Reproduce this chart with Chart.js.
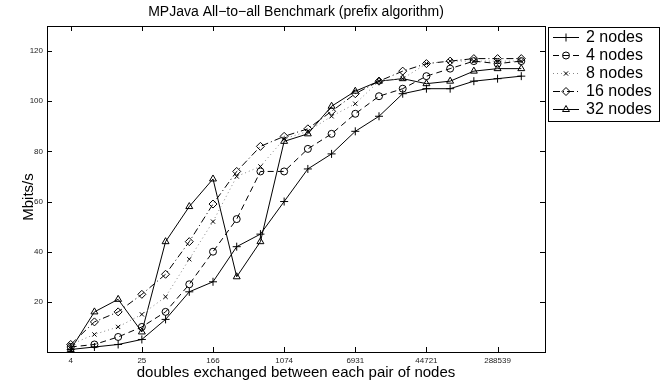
<!DOCTYPE html>
<html>
<head>
<meta charset="utf-8">
<script src="https://cdn.jsdelivr.net/npm/chart.js@4/dist/chart.umd.min.js"></script>
<style>
  html, body { margin: 0; padding: 0; background: #fff; }
  #wrap { width: 661px; height: 385px; }
</style>
</head>
<body>
<div id="wrap"><canvas id="bench" width="661" height="385"></canvas></div>
<script>
// message sizes are plotted by step index (log spaced), labelled every 3rd step
const steps = [0, 1, 2, 3, 4, 5, 6, 7, 8, 9, 10, 11, 12, 13, 14, 15, 16, 17, 18, 19];
const tickIdx = [0, 3, 6, 9, 12, 15, 18];
const tickLabels = ['4', '25', '166', '1074', '6931', '44721', '288539'];
const yTicks = [20, 40, 60, 80, 100, 120];

const nodes2  = [1, 2, 3, 5, 13, 24, 28, 42, 47, 60, 73, 79, 88, 94, 103, 105, 105, 108, 109, 110];
const nodes4  = [2, 3, 6, 10, 16, 27, 40, 53, 72, 72, 81, 87, 95, 102, 105, 110, 113, 116, 115, 116];
const nodes8  = [3, 7, 10, 15, 22, 37, 52, 70, 74, 85, 88, 94, 99, 108, 109, 115, 116, 116, 116, 116];
const nodes16 = [3, 12, 16, 23, 31, 44, 59, 72, 82, 86, 89, 96, 103, 108, 112, 115, 116, 117, 117, 117];
const nodes32 = [1, 16, 21, 8, 44, 58, 69, 30, 44, 84, 87, 98, 104, 108, 109, 107, 108, 112, 113, 113];

const FONT = '"Liberation Sans", Arial, Helvetica, sans-serif';
const clear = 'rgba(0,0,0,0)';

function series(label, data, style) {
    return Object.assign({
        label: label,
        data: data,
        borderColor: '#000',
        borderWidth: 1,
        pointBorderColor: '#000',
        pointBackgroundColor: clear,
        pointBorderWidth: 1,
        pointRadius: 3.5,
        tension: 0,
        fill: false
    }, style);
}

// box, inward ticks, titles and the outside legend
const framePlugin = {
    id: 'frame',
    beforeDraw(chart) {
        const ctx = chart.ctx;
        ctx.save();
        ctx.fillStyle = '#fff';
        ctx.fillRect(0, 0, chart.width, chart.height);
        ctx.restore();
    },
    afterDraw(chart) {
        const { ctx, chartArea: a, scales } = chart;
        ctx.save();
        ctx.strokeStyle = '#000';
        ctx.lineWidth = 1;
        ctx.setLineDash([]);
        ctx.strokeRect(a.left + 0.5, a.top + 0.5, a.right - a.left, a.bottom - a.top);

        ctx.beginPath();
        tickIdx.forEach(v => {
            const x = Math.round(scales.x.getPixelForValue(v)) + 0.5;
            ctx.moveTo(x, a.bottom); ctx.lineTo(x, a.bottom - 5);
            ctx.moveTo(x, a.top); ctx.lineTo(x, a.top + 5);
        });
        yTicks.forEach(v => {
            const y = Math.round(scales.y.getPixelForValue(v)) + 0.5;
            ctx.moveTo(a.left, y); ctx.lineTo(a.left + 5, y);
            ctx.moveTo(a.right, y); ctx.lineTo(a.right - 5, y);
        });
        ctx.stroke();

        ctx.fillStyle = '#000';
        ctx.textAlign = 'center';
        ctx.textBaseline = 'middle';
        ctx.font = '14px ' + FONT;
        ctx.fillText('MPJava All\u2212to\u2212all Benchmark (prefix algorithm)', (a.left + a.right) / 2, 12);
        ctx.font = '15px ' + FONT;
        ctx.fillText('doubles exchanged between each pair of nodes', (a.left + a.right) / 2, 373);
        ctx.save();
        ctx.translate(29, 197);
        ctx.rotate(-Math.PI / 2);
        ctx.fillText('Mbits/s', 0, 0);
        ctx.restore();

        // legend
        ctx.strokeRect(548.5, 27.5, 111, 94);
        ctx.textAlign = 'left';
        ctx.font = '16px ' + FONT;
        chart.data.datasets.forEach((ds, i) => {
            const y = 37 + 18 * i;
            ctx.save();
            ctx.strokeStyle = ds.borderColor;
            ctx.setLineDash(ds.borderDash || []);
            ctx.beginPath();
            ctx.moveTo(553, y + 0.5);
            ctx.lineTo(579, y + 0.5);
            ctx.stroke();
            ctx.setLineDash([]);
            ctx.strokeStyle = '#000';
            ctx.fillStyle = clear;
            Chart.helpers.drawPoint(ctx, {
                pointStyle: ds.pointStyle,
                radius: ds.pointRadius,
                borderWidth: 1,
                rotation: 0
            }, 566, y + 0.5);
            ctx.restore();
            ctx.fillText(ds.label, 586, y + 1);
        });
        ctx.restore();
    }
};

new Chart(document.getElementById('bench').getContext('2d'), {
    type: 'line',
    data: {
        labels: steps,
        datasets: [
            series('2 nodes', nodes2, { pointStyle: 'cross', pointRadius: 4 }),
            series('4 nodes', nodes4, { pointStyle: 'circle', borderDash: [6, 4] }),
            series('8 nodes', nodes8, { pointStyle: 'crossRot', pointRadius: 3, borderColor: '#888', borderDash: [1, 3] }),
            series('16 nodes', nodes16, { pointStyle: 'rectRot', pointRadius: 4, borderDash: [7, 3, 1, 3] }),
            series('32 nodes', nodes32, { pointStyle: 'triangle', pointRadius: 4 })
        ]
    },
    options: {
        responsive: false,
        animation: false,
        layout: { padding: { top: 26, right: 116, bottom: 0, left: 0 } },
        plugins: {
            legend: { display: false },
            tooltip: { enabled: false },
            title: { display: false }
        },
        scales: {
            x: {
                type: 'linear',
                min: -1,
                max: 20,
                grid: { display: false, drawTicks: false },
                border: { display: false },
                afterBuildTicks: scale => { scale.ticks = tickIdx.map(v => ({ value: v })); },
                afterFit: scale => { scale.height = 33; },
                ticks: {
                    autoSkip: false,
                    maxRotation: 0,
                    padding: 4,
                    color: '#222',
                    font: { family: FONT, size: 8 },
                    callback: v => tickLabels[tickIdx.indexOf(v)]
                }
            },
            y: {
                min: 0,
                max: 130,
                grid: { display: false, drawTicks: false },
                border: { display: false },
                afterBuildTicks: scale => { scale.ticks = yTicks.map(v => ({ value: v })); },
                afterFit: scale => { scale.width = 47; },
                ticks: {
                    padding: 4,
                    color: '#222',
                    font: { family: FONT, size: 8 }
                }
            }
        }
    },
    plugins: [framePlugin]
});
</script>
</body>
</html>
